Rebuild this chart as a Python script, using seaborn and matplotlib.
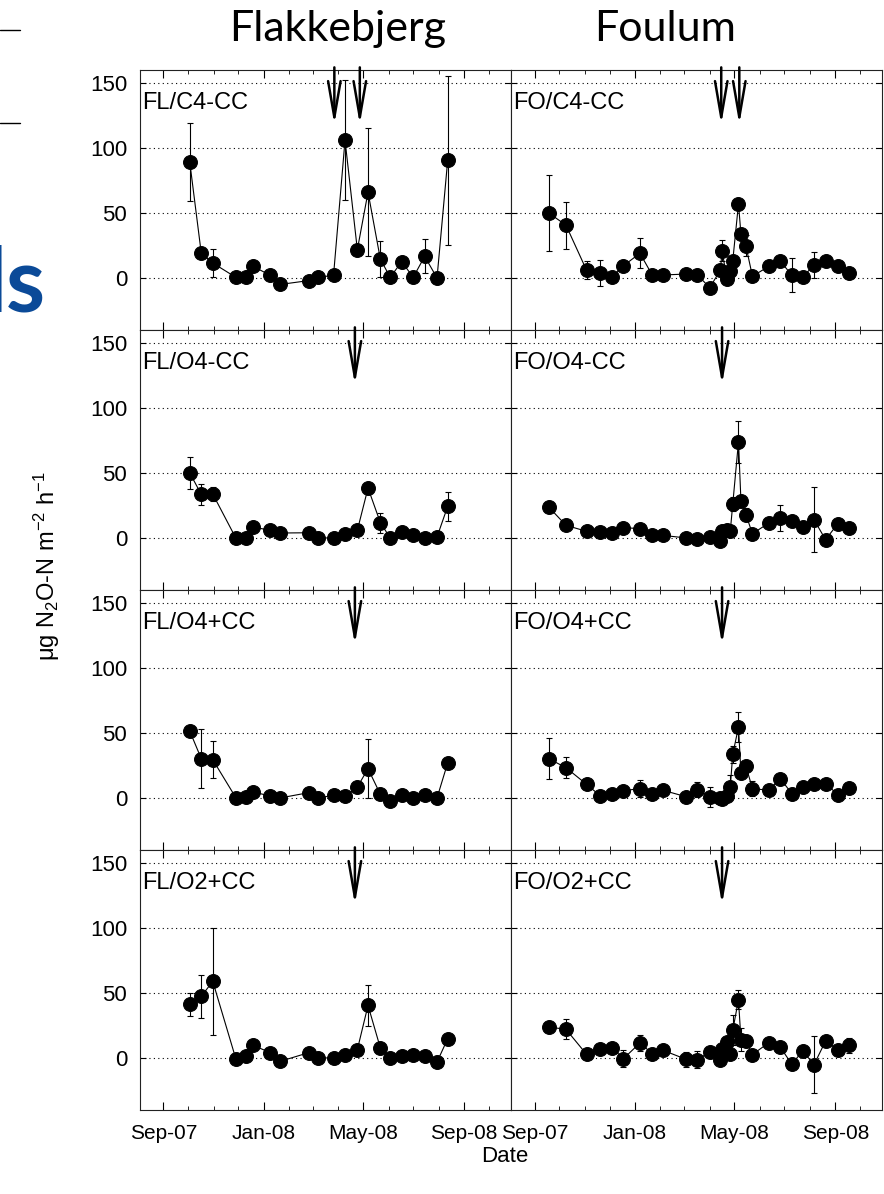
import numpy as np
import pandas as pd
import matplotlib
matplotlib.use('Agg')
import matplotlib.pyplot as plt
import matplotlib.dates as mdates
from matplotlib.lines import Line2D
import seaborn as sns

# sampling dates
fl_dates = ['2007-10-03', '2007-10-17', '2007-10-31', '2007-11-28', '2007-12-10', '2007-12-19',
            '2008-01-09', '2008-01-21', '2008-02-25', '2008-03-07', '2008-03-26', '2008-04-09',
            '2008-04-24', '2008-05-07', '2008-05-22', '2008-06-03', '2008-06-17', '2008-07-01',
            '2008-07-15', '2008-07-30', '2008-08-12']
fo_dates = ['2007-09-18', '2007-10-09', '2007-11-03', '2007-11-20', '2007-12-04', '2007-12-18',
            '2008-01-07', '2008-01-22', '2008-02-04', '2008-03-03', '2008-03-17', '2008-04-01',
            '2008-04-14', '2008-04-16', '2008-04-22', '2008-04-26', '2008-04-29', '2008-05-06',
            '2008-05-09', '2008-05-15', '2008-05-23', '2008-06-12', '2008-06-26', '2008-07-10',
            '2008-07-23', '2008-08-06', '2008-08-20', '2008-09-04', '2008-09-17']

# N2O fluxes and standard errors
fl_c4_cc = [89, 19, 11.5, 0.5, 0.5, 9, 2, -5, -2, 0.5, 2, 106, 21.7, 66, 14.5, 0.5, 12.5, 0.5, 16.6, 0, 90.6]
fl_c4_cc_err = [30, 0, 11, 0, 0, 0, 0, 0, 0, 0, 0, 46, 4, 49, 14, 0, 0, 0, 13, 0, 65]
fl_o4_cc = [50, 33.5, 33.8, 0, 0, 8.4, 5.9, 3.8, 4, 0, 0, 3.3, 5.9, 38.4, 11.8, 0, 4.6, 2, 0, 0.8, 24.3]
fl_o4_cc_err = [12, 8, 5.5, 0, 0, 0, 0, 0, 0, 0, 0, 0, 0, 0, 7.7, 0, 0, 0, 0, 0, 11]
fl_o4p_cc = [51.4, 30.2, 29.4, 0.3, 0.8, 4.6, 1.5, 0, 4.1, 0, 2, 1.3, 8.4, 22.5, 2.8, -2.3, 2, 0, 2.6, 0, 27]
fl_o4p_cc_err = [0, 22.8, 14.3, 0, 0, 0, 0, 0, 0, 0, 0, 0, 0, 22.5, 0, 0, 0, 0, 0, 0, 0]
fl_o2p_cc = [41.2, 47.4, 58.9, -0.5, 1.3, 9.7, 4.1, -2.6, 4.1, 0, 0, 2, 6.4, 40.4, 7.7, 0, 1.3, 2, 1.5, -3.1, 14.8]
fl_o2p_cc_err = [9, 16.4, 41, 0, 0, 0, 0, 0, 0, 0, 0, 0, 0, 15.6, 0, 0, 0, 0, 0, 0, 0]

fo_c4_cc = [50, 40.6, 6, 3.6, 0.5, 9.4, 19, 2.3, 2.3, 3, 2.3, -7.4, 6, 21, -1, 5, 13, 57, 33.7, 24.7,
            1.3, 9, 13, 2, 0.5, 10, 13, 9.4, 3.6]
fo_c4_cc_err = [29, 18, 7, 10, 0, 0, 11.5, 0, 0, 0, 0, 0, 0, 8, 0, 0, 0, 0, 0, 8,
                0, 0, 0, 13, 0, 10, 0, 0, 0]
fo_o4_cc = [23.8, 9.7, 5.1, 4.6, 4.1, 7.9, 7.2, 2, 2, 0, -0.8, 0.8, -2.3, 5.4, 5.9, 5.1, 25.9, 74, 28.4, 18,
            3.3, 11.5, 15.6, 13, 8.4, 14, -1.3, 11, 7.9]
fo_o4_cc_err = [0, 0, 0, 0, 0, 0, 0, 0, 0, 0, 0, 0, 0, 0, 0, 0, 5.5, 16, 4, 5,
                0, 0, 10, 0, 0, 25, 0, 0, 0]
fo_o4p_cc = [30.2, 23.3, 10.5, 1.5, 3.1, 5.6, 7.2, 2.8, 5.9, 1, 6.4, 0.8, 0, -1, 1.5, 8.4, 33.5, 54.5, 19.5, 24.6,
             7.2, 5.9, 14.8, 3.3, 8.4, 10.7, 11, 2.6, 7.9]
fo_o4p_cc_err = [16, 8.3, 0, 0, 0, 0, 6.4, 0, 0, 0, 5.8, 8, 0, 0, 0, 9, 6.4, 11.5, 0, 0,
                 6, 0, 0, 0, 0, 0, 0, 0, 0]
fo_o2p_cc = [23.8, 22, 2.8, 6.9, 7.7, -0.5, 11.5, 3.3, 5.9, -1, -1.3, 4.6, -1.3, 7.2, 12.3, 2.8, 21.2, 44.8, 14, 12.8,
             2.6, 11.8, 8.2, -4.9, 5.4, -5.1, 13, 6.4, 9.7]
fo_o2p_cc_err = [0, 7.7, 0, 0, 0, 6.6, 6, 0, 0, 5.6, 6.8, 0, 0, 0, 0, 0, 11.5, 7.4, 9, 0,
                 0, 0, 0, 0, 0, 21.8, 0, 0, 5.6]

# tillage / fertilisation events (arrows)
fl_c4_arrows = ['2008-03-27', '2008-04-27']
fl_arrows = ['2008-04-21']
fo_c4_arrows = ['2008-04-15', '2008-05-07']
fo_arrows = ['2008-04-16']

panel_labels = [['FL/C4-CC', 'FO/C4-CC'], ['FL/O4-CC', 'FO/O4-CC'],
                ['FL/O4+CC', 'FO/O4+CC'], ['FL/O2+CC', 'FO/O2+CC']]
panels = [[(fl_dates, fl_c4_cc, fl_c4_cc_err, fl_c4_arrows), (fo_dates, fo_c4_cc, fo_c4_cc_err, fo_c4_arrows)],
          [(fl_dates, fl_o4_cc, fl_o4_cc_err, fl_arrows), (fo_dates, fo_o4_cc, fo_o4_cc_err, fo_arrows)],
          [(fl_dates, fl_o4p_cc, fl_o4p_cc_err, fl_arrows), (fo_dates, fo_o4p_cc, fo_o4p_cc_err, fo_arrows)],
          [(fl_dates, fl_o2p_cc, fl_o2p_cc_err, fl_arrows), (fo_dates, fo_o2p_cc, fo_o2p_cc_err, fo_arrows)]]

sns.set_style('ticks')
plt.rcParams['font.family'] = ['Liberation Sans', 'DejaVu Sans']
plt.rcParams['mathtext.fontset'] = 'custom'
plt.rcParams['mathtext.rm'] = 'Liberation Sans'
plt.rcParams['mathtext.default'] = 'rm'
for k in ['text.color', 'axes.labelcolor', 'xtick.color', 'ytick.color']:
    plt.rcParams[k] = 'black'

fig, axes = plt.subplots(4, 2, figsize=(8.84, 11.94), dpi=100, sharex=True, sharey=True)
plt.subplots_adjust(left=0.158, right=0.998, top=0.9414, bottom=0.0704, wspace=0, hspace=0)

for r in range(4):
    for c in range(2):
        ax = axes[r, c]
        dates, vals, errs, arrows = panels[r][c]
        d = pd.to_datetime(pd.Series(dates))
        v = np.array(vals, dtype=float)
        e = np.array(errs, dtype=float)
        m = e > 0
        ax.errorbar(d[m], v[m], yerr=e[m], fmt='none', ecolor='black', elinewidth=0.8,
                    capsize=2.5, capthick=0.8, zorder=2)
        sns.lineplot(x=d, y=v, ax=ax, color='black', linewidth=0.8, marker='o', markersize=10,
                     markeredgecolor='black', errorbar=None, zorder=3)
        for a in arrows:
            ax.annotate('', xy=(pd.Timestamp(a), 118), xytext=(pd.Timestamp(a), 162),
                        arrowprops=dict(arrowstyle='->,head_length=2.6,head_width=0.45',
                                        lw=1.8, color='black', shrinkA=0, shrinkB=0,
                                        mutation_scale=10),
                        annotation_clip=False)
        ax.set_ylim(-40, 160)
        ax.set_yticks([0, 50, 100, 150])
        ax.set_xlim(pd.Timestamp('2007-08-03'), pd.Timestamp('2008-10-28'))
        ax.xaxis.set_major_locator(mdates.MonthLocator(bymonth=[1, 5, 9]))
        ax.xaxis.set_major_formatter(mdates.DateFormatter('%b-%y'))
        ax.xaxis.set_minor_locator(mdates.MonthLocator())
        ax.grid(axis='y', linestyle=(0, (1, 3)), color='black', linewidth=0.8)
        ax.set_axisbelow(True)
        ax.set_xlabel('')
        ax.set_ylabel('')
        ax.tick_params(which='both', direction='in', top=True, right=True, labelsize=16)
        ax.tick_params(axis='x', which='major', length=6, pad=10, labelsize=15)
        ax.tick_params(axis='x', which='minor', length=3)
        ax.tick_params(axis='y', length=4, pad=9)
        for s in ax.spines.values():
            s.set_linewidth(0.8)
            s.set_color('#222222')
        ax.text(0.006, 0.85, panel_labels[r][c], transform=ax.transAxes, fontsize=17, va='baseline')

fig.text(338 / 884, 1 - 29 / 1194, 'Flakkebjerg', ha='center', va='center', fontsize=31, family='Lato')
fig.text(665 / 884, 1 - 29 / 1194, 'Foulum', ha='center', va='center', fontsize=31, family='Lato')
fig.text(47 / 884, 1 - 566 / 1194, r'μg N$_2$O-N m$^{-2}$ h$^{-1}$', rotation=90,
         ha='center', va='center', fontsize=17)
fig.text(505 / 884, 1 - 1157 / 1194, 'Date', ha='center', va='center', fontsize=16)

# fragments of the slide around the figure
fig.text(46 / 884, 1 - 311 / 1194, 'ls', ha='right', va='baseline', fontsize=64,
         color='#0b4a98', family='Lato', fontweight='bold')
fig.add_artist(Line2D([0, 20 / 884], [1 - 30 / 1194] * 2, color='black', lw=1))
fig.add_artist(Line2D([0, 20 / 884], [1 - 123 / 1194] * 2, color='black', lw=1))

fig.savefig('out.png', dpi=100)
